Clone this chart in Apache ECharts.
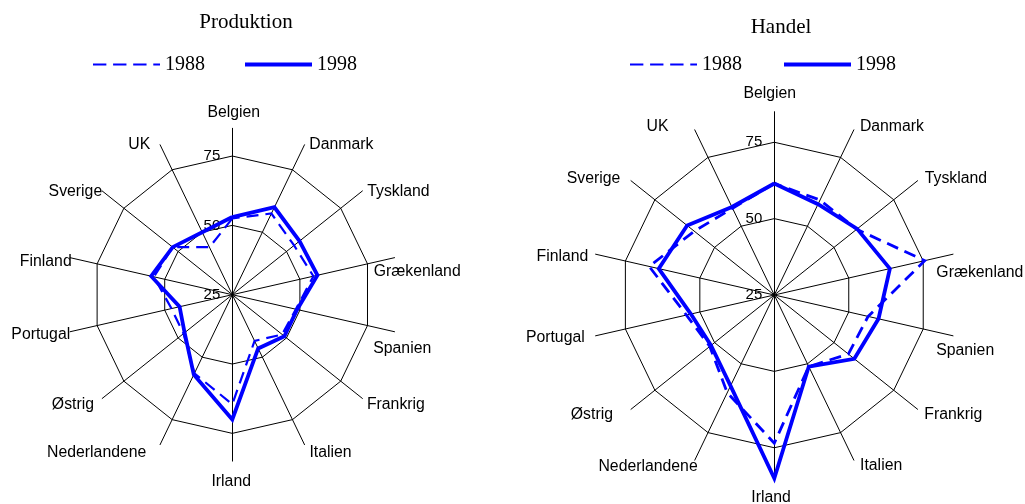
<!DOCTYPE html>
<html><head><meta charset="utf-8">
<script src="https://cdn.jsdelivr.net/npm/echarts@6/dist/echarts.min.js"></script>
<style>html,body{margin:0;padding:0;background:#fff}#c{width:1025px;height:504px}</style>
</head><body><div id="c"></div>
<script>
// ---- data (clockwise from top, as in the reference) ----
const countries = ['Belgien','Danmark','Tyskland','Grækenland','Spanien','Frankrig','Italien','Irland','Nederlandene','Østrig','Portugal','Finland','Sverige','UK'];
const years = ['1988','1998'];
const titles = ['Produktion','Handel'];
const produktion1988 = [52.5, 57.5, 53.5, 55, 48.5, 48, 43.5, 64.5, 56.5, 47.5, 47.5, 54, 52.5, 44];
const produktion1998 = [53, 60, 56, 56.5, 49, 49, 46.5, 70, 57, 47, 44.5, 55, 52.5, 50];
const handel1988 = [61.5, 59.5, 59.5, 75.5, 56.5, 56, 51, 73.5, 60.5, 52, 54.5, 67, 58.5, 56.5];
const handel1998 = [61.5, 58, 59.7, 63.8, 60, 58.5, 51, 85, 58, 51.5, 53, 63.8, 61.5, 57];
const tickLabels = [25, 50, 75];
const axisMin = 25, axisMax = 85, axisStep = 5;

// ---- styling (label placement offsets relative to axis ends, in px) ----
const nameOffsetsLeft = {Belgien:[1.5,-15.8], Danmark:[36.8,0], Tyskland:[36,0.5], 'Grækenland':[22.7,14.1], Spanien:[7.7,16.5], Frankrig:[33.5,6.4], Italien:[26,8.1], Irland:[-1.1,20.5], Nederlandene:[-63.4,8.1], 'Østrig':[-29.3,6.3], Portugal:[-29.3,2.5], Finland:[-24.3,3.6], Sverige:[-26.8,0.7], UK:[-20.9,0]};
const nameOffsetsRight = {Belgien:[-4.5,-18], Danmark:[38.1,-3.1], Tyskland:[38.3,-2.5], 'Grækenland':[26.8,18.7], Spanien:[12.2,15.1], Frankrig:[35.7,5.3], Italien:[27.3,6], Irland:[-3.3,19.7], Nederlandene:[-46.7,6.3], 'Østrig':[-39.1,5.5], Portugal:[-40.3,1.4], Finland:[-33.1,2], Sverige:[-37.4,-2.5], UK:[-37.2,-3.1]};
const BLUE = '#0000ff';
const SANS = 'Liberation Sans, Arial, sans-serif';
const SERIF = 'Liberation Serif, Times New Roman, serif';

// ECharts places radar indicators counter-clockwise; reorder to get clockwise
const order = countries.map((_, i) => (countries.length - i) % countries.length);
const reorder = arr => order.map(i => arr[i]);

const splitCount = Math.round((axisMax - axisMin) / axisStep);
const ringColors = [];
for (let i = 0; i <= splitCount; i++) {
  const v = axisMin + i * axisStep;
  ringColors.push(v !== axisMin && tickLabels.includes(v) ? '#000' : 'rgba(0,0,0,0)');
}

function makeRadar(center, radius, offsets) {
  return {
    center: center, radius: radius, startAngle: 90, shape: 'polygon',
    splitNumber: splitCount, axisNameGap: 0,
    axisName: {
      color: '#000', fontFamily: SANS, fontSize: 15.8,
      // vertical shift: an empty line above (down shift) or below (up shift)
      formatter: function (name) {
        const dy = offsets[name][1];
        if (Math.abs(dy) < 0.3) return name;
        return dy > 0 ? '\n' + name : name + '\n';
      }
    },
    indicator: order.map((idx, k) => {
      const name = countries[idx];
      const off = offsets[name];
      const lh = Math.max(0.6, 2 * Math.abs(off[1]));
      const ind = {
        name: name, min: axisMin, max: axisMax, nameMoveOverlap: false,
        nameTextStyle: { align: 'center', verticalAlign: 'middle', lineHeight: lh, padding: [0, 0, 0, 2 * off[0]] }
      };
      if (k === 0) {
        ind.axisLabel = {
          show: true, color: '#000', fontFamily: SANS, fontSize: 15, margin: 12,
          showMinLabel: true, showMaxLabel: false,
          formatter: v => tickLabels.includes(Math.round(v)) ? String(Math.round(v)) : ''
        };
      }
      return ind;
    }),
    axisLine: { show: true, lineStyle: { color: '#000', width: 1 } },
    splitLine: { show: true, lineStyle: { color: ringColors, width: 1 } },
    splitArea: { show: false },
    axisTick: { show: false },
    axisLabel: { show: false }
  };
}

function makeSeries(radarIndex, v88, v98, dashW) {
  return {
    type: 'radar', radarIndex: radarIndex, symbol: 'none', silent: true,
    data: [
      { name: years[0], value: reorder(v88), itemStyle: { color: BLUE },
        lineStyle: { color: BLUE, width: dashW, type: [12, 7], join: 'miter' } },
      { name: years[1], value: reorder(v98), itemStyle: { color: BLUE },
        lineStyle: { color: BLUE, width: 3.8, type: 'solid', join: 'miter' } }
    ]
  };
}

const dashedIcon = 'path://M0,0h13.3v2h-13.3zM20,0h13.3v2h-13.3zM40,0h13.3v2h-13.3zM60,0h6.7v2h-6.7z';
function makeLegend(left, gap) {
  return {
    left: left, top: 54.5, padding: 0, itemGap: gap, itemWidth: 67, itemHeight: 4,
    selectedMode: false, orient: 'horizontal',
    textStyle: { fontFamily: SERIF, fontSize: 20, color: '#000' },
    data: [
      { name: years[0], icon: dashedIcon, itemStyle: { color: BLUE, borderWidth: 0 } },
      { name: years[1], icon: 'rect', itemStyle: { color: BLUE, borderWidth: 0 } }
    ]
  };
}

const titleStyle = { fontFamily: SERIF, fontSize: 21, fontWeight: 'normal', color: '#000' };
const chart = echarts.init(document.getElementById('c'), null, { renderer: 'canvas' });
chart.setOption({
  backgroundColor: '#fff',
  animation: false,
  title: [
    { text: titles[0], left: 246, top: 11.7, textAlign: 'center', padding: 0, textStyle: titleStyle },
    { text: titles[1], left: 781, top: 16.5, textAlign: 'center', padding: 0, textStyle: titleStyle }
  ],
  legend: [makeLegend(93, 40), makeLegend(630, 42)],
  radar: [
    makeRadar([232.3, 294.7], 166.4, nameOffsetsLeft),
    makeRadar([774.3, 295], 183.3, nameOffsetsRight)
  ],
  series: [
    makeSeries(0, produktion1988, produktion1998, 2.2),
    makeSeries(1, handel1988, handel1998, 2.8)
  ]
});
</script></body></html>
